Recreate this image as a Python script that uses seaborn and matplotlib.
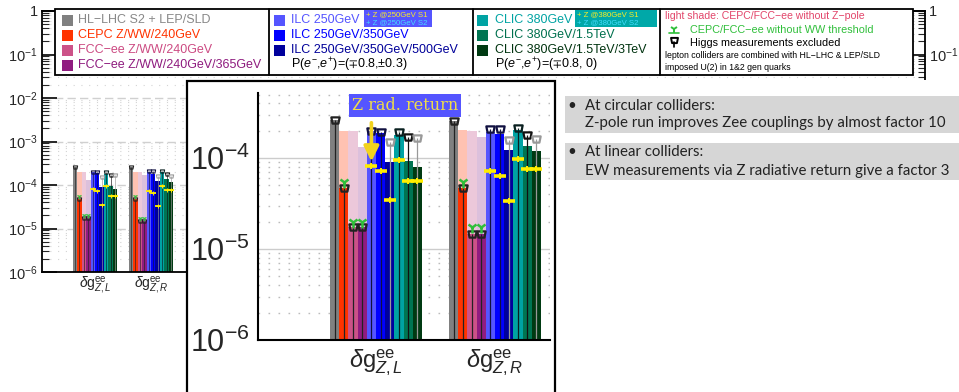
import numpy as np
import pandas as pd
import matplotlib
matplotlib.use("Agg")
import matplotlib.pyplot as plt
import seaborn as sns
from matplotlib.patches import Rectangle
from matplotlib.path import Path
from matplotlib.lines import Line2D
import matplotlib.ticker as mticker

# ---------------- data ----------------
couplings = ["L", "R"]
coupling_labels = [r"$\delta\mathrm{g}^{\mathrm{ee}}_{Z,L}$", r"$\delta\mathrm{g}^{\mathrm{ee}}_{Z,R}$"]
colliders = ["HL-LHC S2 + LEP/SLD", "CEPC Z/WW/240GeV", "FCC-ee Z/WW/240GeV",
             "FCC-ee Z/WW/240GeV/365GeV", "ILC 250GeV", "ILC 250GeV/350GeV",
             "ILC 250GeV/350GeV/500GeV", "CLIC 380GeV", "CLIC 380GeV/1.5TeV",
             "CLIC 380GeV/1.5TeV/3TeV"]
legend_labels = ["HL\u2212LHC S2 + LEP/SLD", "CEPC Z/WW/240GeV", "FCC\u2212ee Z/WW/240GeV",
                 "FCC\u2212ee Z/WW/240GeV/365GeV", "ILC 250GeV", "ILC 250GeV/350GeV",
                 "ILC 250GeV/350GeV/500GeV", "CLIC 380GeV", "CLIC 380GeV/1.5TeV",
                 "CLIC 380GeV/1.5TeV/3TeV"]
colors = ["#808080", "#ff3300", "#cc5288", "#901c80", "#5555ff", "#0000ff",
          "#00009c", "#00a3a3", "#007552", "#003a12"]
shade_colors = ["#ffffff", "#ffc2b2", "#ecc8da", "#dcc0dc", "#ffffff", "#ffffff",
                "#ffffff", "#ffffff", "#ffffff", "#ffffff"]
cap_colors = ["#222222", "#222222", "#222222", "#222222", "#101040", "#101040",
              "#999999", "#0a2020", "#111111", "#999999"]

nan = np.nan
values_L = [2.6e-4, 4.7e-5, 1.76e-5, 1.76e-5, 2.0e-4, 1.9e-4, 9.0e-5, 1.79e-4, 9.3e-5, 8.0e-5]
values_R = [2.55e-4, 4.7e-5, 1.46e-5, 1.46e-5, 1.95e-4, 1.82e-4, 1.22e-4, 2.03e-4, 1.35e-4, 1.19e-4]
noHiggs_L = [2.6e-4, 4.7e-5, 1.76e-5, 1.76e-5, 2.0e-4, 1.95e-4, 1.5e-4, 1.95e-4, 1.7e-4, 1.66e-4]
noHiggs_R = [2.55e-4, 4.7e-5, 1.46e-5, 1.46e-5, 2.1e-4, 2.1e-4, 1.58e-4, 2.15e-4, 1.79e-4, 1.64e-4]
noZpole_L = [nan, 2.0e-4, 2.0e-4, 1.33e-4, nan, nan, nan, nan, nan, nan]
noZpole_R = [nan, 2.03e-4, 2.0e-4, 1.69e-4, nan, nan, nan, nan, nan, nan]
noWW_L = [nan, 5.5e-5, 2.0e-5, 2.0e-5, nan, nan, nan, nan, nan, nan]
noWW_R = [nan, 5.5e-5, 1.76e-5, 1.76e-5, nan, nan, nan, nan, nan, nan]
zrad_L = [nan, nan, nan, nan, 8.2e-5, 7.2e-5, 3.5e-5, 9.5e-5, 5.6e-5, 5.6e-5]
zrad_R = [nan, nan, nan, nan, 7.25e-5, 6.4e-5, 3.37e-5, 9.7e-5, 7.5e-5, 7.5e-5]

values = [values_L, values_R]
noHiggs = [noHiggs_L, noHiggs_R]
noZpole = [noZpole_L, noZpole_R]
noWW = [noWW_L, noWW_R]
zrad = [zrad_L, zrad_R]

df = pd.DataFrame({
    "coupling": [c for c in couplings for _ in colliders],
    "collider": colliders * len(couplings),
    "value": values_L + values_R,
})

# ---------------- style ----------------
sns.set_style("white")
plt.rcParams["font.family"] = ["Liberation Sans", "DejaVu Sans"]
plt.rcParams["mathtext.fontset"] = "custom"
plt.rcParams["mathtext.rm"] = "Liberation Sans"
plt.rcParams["mathtext.it"] = "Liberation Sans:italic"
plt.rcParams["mathtext.bf"] = "Liberation Sans:bold"
plt.rcParams["mathtext.fallback"] = "stixsans"

W, H = 959, 392
fig = plt.figure(figsize=(W / 100, H / 100), dpi=100)


def fx(px):
    return px / W


def fy(py):
    return 1 - py / H


cup = Path([(-1, 0.75), (1, 0.75), (0.7, -0.75), (-0.7, -0.75), (-1, 0.75)],
           [Path.MOVETO, Path.LINETO, Path.LINETO, Path.LINETO, Path.CLOSEPOLY])


def log_fmt(v, p):
    if v <= 0:
        return ""
    e = int(round(np.log10(v)))
    if e == 0:
        return "1"
    return r"$10^{%d}$" % e


def draw_panel(ax, width, ylim, k):
    sns.barplot(data=df, x="coupling", y="value", hue="collider", order=couplings,
                hue_order=colliders, palette=colors, width=width, gap=0, saturation=1,
                errorbar=None, legend=False, linewidth=0, ax=ax, zorder=1)
    ax.set_yscale("log")
    ax.set_ylim(*ylim)
    ax.set_axisbelow(True)
    y0 = ylim[0]
    info = {}
    for j, cont in enumerate(list(ax.containers)):
        for rect in cont:
            xc = rect.get_x() + rect.get_width() / 2
            w = rect.get_width()
            i = int(round(xc))
            info[(i, j)] = xc
            s = noZpole[i][j]
            if np.isfinite(s):
                ax.bar(xc, s, width=w, color=shade_colors[j], linewidth=0, zorder=0.9)
            cap = noHiggs[i][j]
            ax.vlines(xc, y0, cap, color=cap_colors[j], lw=0.9 * k, zorder=2)
            ax.plot(xc, cap, marker=cup, ms=6 * k, mec=cap_colors[j], mfc="none",
                    mew=1.6 * k, zorder=4, ls="none")
            ww = noWW[i][j]
            if np.isfinite(ww):
                ax.plot(xc, ww, marker="1", ms=8 * k, color="#2fbf3a", mew=1.8 * k,
                        zorder=4, ls="none")
            z = zrad[i][j]
            if np.isfinite(z):
                ax.plot(xc, z, marker="_", ms=9 * k, color="#ffee00", mew=2.6 * k,
                        zorder=5, ls="none")
                ax.plot(xc, z, marker="+", ms=5 * k, color="#ffee00", mew=1.4 * k,
                        zorder=5, ls="none")
    ax.set_xlabel("")
    ax.set_ylabel("")
    ax.set_xticks(range(len(couplings)))
    ax.yaxis.set_major_locator(mticker.LogLocator(base=10, numticks=20))
    ax.yaxis.set_minor_locator(mticker.LogLocator(base=10, subs=np.arange(2, 10), numticks=100))
    ax.yaxis.set_major_formatter(mticker.FuncFormatter(log_fmt))
    ax.yaxis.set_minor_formatter(mticker.NullFormatter())
    return info


# ---------------- background (full) panel ----------------
ax_bg = fig.add_axes([fx(42), fy(272), (925 - 42) / W, (272 - 11) / H], zorder=0)
draw_panel(ax_bg, 0.8, (1e-6, 1.0), 0.5)
ax_bg.set_xlim(-(95 - 42) / 56, -(95 - 42) / 56 + (925 - 42) / 56)
ax_bg.set_xticklabels(coupling_labels, fontsize=10)
ax_bg.tick_params(axis="x", length=0, pad=2)
ax_bg.tick_params(axis="y", which="major", direction="in", length=11, width=1.4,
                  left=True, right=True, labelleft=True, labelright=True,
                  labelsize=10.5, pad=3)
ax_bg.tick_params(axis="y", which="minor", direction="in", length=5, width=0.8,
                  left=True, right=True)
ax_bg.yaxis.grid(True, which="major", color="#d0d0d0", linestyle=(0, (6, 3)), lw=1)
ax_bg.yaxis.grid(True, which="minor", color="#d4d4d4", linestyle=(0, (1, 6)), lw=0.8)
for sp in ax_bg.spines.values():
    sp.set_visible(True)
    sp.set_color("black")
    sp.set_linewidth(1.3)

# white cover on the right
fig.add_artist(Rectangle((fx(556), 0), 1 - fx(556), fy(80), transform=fig.transFigure,
                         facecolor="white", edgecolor="none", zorder=2))

# inset frame
fig.add_artist(Rectangle((fx(187), -0.05), fx(555) - fx(187), fy(81) + 0.05,
                         transform=fig.transFigure, facecolor="white",
                         edgecolor="black", lw=1.6, zorder=3))

# ---------------- inset (zoomed) panel ----------------
ax_in = fig.add_axes([fx(258), fy(340), (550 - 258) / W, (340 - 93) / H], zorder=5)
ax_in.set_facecolor("white")
info = draw_panel(ax_in, 0.773, (1e-6, 5.2e-4), 1.0)
ax_in.set_xlim(-(376 - 258) / 119, -(376 - 258) / 119 + (550 - 258) / 119)
ax_in.set_xticklabels(coupling_labels, fontsize=17)
ax_in.tick_params(axis="x", length=0, pad=5)
ax_in.tick_params(axis="y", which="major", direction="in", length=26, width=1.5,
                  labelsize=22, pad=6)
ax_in.tick_params(axis="y", which="minor", direction="in", length=7, width=1.3)
ax_in.yaxis.grid(True, which="major", color="#cccccc", linestyle="-", lw=1)
ax_in.yaxis.grid(True, which="minor", color="#bcbcbc", linestyle=(0, (1.2, 6)), lw=1)
for side in ["top", "right"]:
    ax_in.spines[side].set_visible(False)
for side in ["left", "bottom"]:
    ax_in.spines[side].set_color("black")
    ax_in.spines[side].set_linewidth(1.5)

# Z radiative return arrow
xa = info[(0, 4)]
ax_in.annotate("", xy=(xa, zrad_L[4] * 1.12), xytext=(xa, 2.45e-4),
               arrowprops=dict(arrowstyle="-|>,head_width=0.45,head_length=0.9",
                               color="#f2d21e", lw=2.6, shrinkA=0, shrinkB=0),
               zorder=6)
fig.text(fx(405), fy(105.5), "Z rad. return", ha="center", va="center",
         family="DejaVu Serif", fontsize=11.5, color="#eedc4a", zorder=10,
         bbox=dict(boxstyle="square,pad=0.18", fc="#5555ff", ec="none"))

# ---------------- legend box ----------------
fig.add_artist(Rectangle((fx(55), fy(75)), fx(913) - fx(55), (75 - 9) / H,
                         transform=fig.transFigure, facecolor="white",
                         edgecolor="black", lw=1.3, zorder=6))
for xd in [269, 473, 660]:
    fig.add_artist(Line2D([fx(xd), fx(xd)], [fy(9), fy(75)], transform=fig.transFigure,
                          color="black", lw=1.3, zorder=7))

rows = [20, 35, 50, 65]
text_cols = ["#888888", "#ff3300", "#cc4a82", "#8e1b7e", "#5555ff", "#0000ff",
             "#000099", "#00a3a3", "#00704e", "#00330f"]
sections = [(62, 78, [0, 1, 2, 3]), (274, 291, [4, 5, 6]), (477, 495, [7, 8, 9])]
for sq_x, tx, idxs in sections:
    for r, j in enumerate(idxs):
        fig.add_artist(Rectangle((fx(sq_x), fy(rows[r] + 5.5)), 11 / W, 11 / H,
                                 transform=fig.transFigure, facecolor=colors[j],
                                 edgecolor="none", zorder=7))
        fig.text(fx(tx), fy(rows[r]), legend_labels[j], ha="left", va="center",
                 fontsize=9, color=text_cols[j], zorder=8)

fig.text(fx(291), fy(65), r"P($e^{-}$,$e^{+}$)=($\mp$0.8,$\pm$0.3)", ha="left",
         va="center", fontsize=9, color="black", zorder=8)
fig.text(fx(495), fy(65), r"P($e^{-}$,$e^{+}$)=($\mp$0.8, 0)", ha="left",
         va="center", fontsize=9, color="black", zorder=8)

# Z@ S1/S2 boxes
for (bx0, bx1, bcol, en) in [(364, 432, "#5555ff", "250GeV"), (575, 657, "#00a8a8", "380GeV")]:
    fig.add_artist(Rectangle((fx(bx0), fy(27)), (bx1 - bx0) / W, 17 / H,
                             transform=fig.transFigure, facecolor=bcol,
                             edgecolor="none", zorder=7))
    fig.text(fx(bx0 + 2), fy(14.5), "+ Z @" + en + " S1", ha="left", va="center",
             fontsize=5.6, color="#ffee22", zorder=8)
    fig.text(fx(bx0 + 2), fy(22.5), "+ Z @" + en + " S2", ha="left", va="center",
             fontsize=5.6, color="#44ddff", zorder=8)

# section 4
fig.text(fx(665), fy(16), "light shade: CEPC/FCC\u2212ee without Z\u2212pole", ha="left",
         va="center", fontsize=7.6, color="#e2456a", zorder=8)
fig.add_artist(Line2D([fx(674)], [fy(29)], marker="1", ms=6, mew=1.4, color="#2fbf3a",
                      transform=fig.transFigure, zorder=8))
fig.add_artist(Line2D([fx(669), fx(679)], [fy(33), fy(33)], lw=1.2, color="#2fbf3a",
                      transform=fig.transFigure, zorder=8))
fig.text(fx(690), fy(30), "CEPC/FCC\u2212ee without WW threshold", ha="left", va="center",
         fontsize=7.8, color="#2fbf3a", zorder=8)
fig.add_artist(Line2D([fx(674)], [fy(40)], marker=cup, ms=5, mew=1.4, mec="black",
                      mfc="none", transform=fig.transFigure, zorder=8))
fig.add_artist(Line2D([fx(674), fx(674)], [fy(41.5), fy(47)], lw=1.2, color="black",
                      transform=fig.transFigure, zorder=8))
fig.text(fx(690), fy(43), "Higgs measurements excluded", ha="left", va="center",
         fontsize=7.8, color="black", zorder=8)
fig.text(fx(665), fy(55.5), "lepton colliders are combined with HL\u2212LHC & LEP/SLD",
         ha="left", va="center", fontsize=6.3, color="black", zorder=8)
fig.text(fx(665), fy(68), "imposed U(2) in 1&2 gen quarks", ha="left", va="center",
         fontsize=6.3, color="black", zorder=8)

# ---------------- bullet boxes ----------------
bullets = [("At circular colliders:", "Z-pole run improves Zee couplings by almost factor 10", 96, 133),
           ("At linear colliders:", "EW measurements via Z radiative return give a factor 3", 143, 180)]
for l1, l2, y0, y1 in bullets:
    fig.add_artist(Rectangle((fx(565), fy(y1)), 1 - fx(565) + 0.01, (y1 - y0) / H,
                             transform=fig.transFigure, facecolor="#d6d6d6",
                             edgecolor="none", zorder=3))
    fig.text(fx(567), fy(y0 + 9.5), "\u2022", ha="left", va="center", fontsize=10.8,
             family="Lato", color="#222222", zorder=4)
    fig.text(fx(585), fy(y0 + 9.5), l1, ha="left", va="center", fontsize=10.8,
             family="Lato", color="#222222", zorder=4)
    fig.text(fx(585), fy(y0 + 27.5), l2, ha="left", va="center", fontsize=10.8,
             family="Lato", color="#222222", zorder=4)

fig.savefig("out.png", dpi=100)
